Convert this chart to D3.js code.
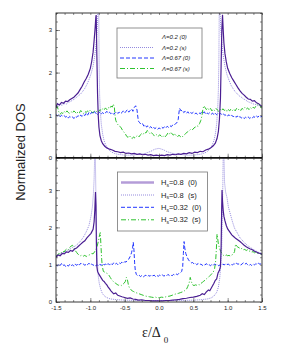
<!DOCTYPE html>
<html>
<head>
<script src="https://d3js.org/d3.v7.min.js"></script>
<style>
body { margin: 0; background: #fff; }
svg text { font-family: Arial, "Liberation Sans", sans-serif; fill: #222; }
</style>
</head>
<body>
<script>
// top panel: Lambda series, bottom panel: H_s series. [energy, DOS]
var lam02_0 = [[-1.5,1.18],[-1.48,1.27],[-1.45,1.24],[-1.42,1.3],[-1.39,1.28],[-1.36,1.33],[-1.33,1.32],[-1.3,1.36],[-1.27,1.39],[-1.24,1.42],[-1.21,1.47],[-1.18,1.52],[-1.15,1.6],[-1.12,1.68],[-1.09,1.78],[-1.06,1.86],[-1.03,1.96],[-1.0,2.1],[-0.98,2.26],[-0.96,2.48],[-0.945,2.75],[-0.93,3.05],[-0.92,3.3],[-0.915,3.35],[-0.905,2.4],[-0.895,1.5],[-0.885,1.0],[-0.875,0.72],[-0.86,0.52],[-0.84,0.4],[-0.82,0.33],[-0.79,0.27],[-0.76,0.23],[-0.72,0.2],[-0.68,0.18],[-0.64,0.15],[-0.6,0.14],[-0.56,0.12],[-0.52,0.13],[-0.48,0.1],[-0.44,0.11],[-0.4,0.09],[-0.36,0.1],[-0.32,0.08],[-0.28,0.09],[-0.24,0.07],[-0.2,0.08],[-0.16,0.06],[-0.12,0.07],[-0.08,0.05],[-0.04,0.06],[0,0.05],[0.04,0.06],[0.08,0.05],[0.12,0.07],[0.16,0.06],[0.2,0.08],[0.24,0.07],[0.28,0.09],[0.32,0.08],[0.36,0.1],[0.4,0.09],[0.44,0.12],[0.48,0.1],[0.52,0.13],[0.56,0.12],[0.6,0.15],[0.64,0.14],[0.68,0.18],[0.72,0.2],[0.76,0.24],[0.79,0.28],[0.82,0.34],[0.845,0.45],[0.865,0.62],[0.88,0.9],[0.895,1.4],[0.905,2.2],[0.915,3.0],[0.925,3.36],[0.935,3.0],[0.945,2.7],[0.96,2.45],[0.98,2.25],[1.0,2.1],[1.03,1.98],[1.06,1.88],[1.09,1.8],[1.12,1.72],[1.15,1.64],[1.18,1.57],[1.21,1.51],[1.24,1.47],[1.27,1.42],[1.3,1.38],[1.33,1.37],[1.36,1.33],[1.39,1.34],[1.42,1.29],[1.45,1.27],[1.48,1.23],[1.5,1.2]];
var lam02_s = [[-1.5,1.22],[-1.47,1.2],[-1.44,1.25],[-1.41,1.23],[-1.38,1.27],[-1.35,1.26],[-1.32,1.3],[-1.29,1.32],[-1.26,1.35],[-1.23,1.38],[-1.2,1.42],[-1.17,1.46],[-1.14,1.5],[-1.11,1.56],[-1.08,1.63],[-1.05,1.72],[-1.02,1.83],[-0.99,1.97],[-0.96,2.15],[-0.94,2.35],[-0.92,2.6],[-0.905,2.9],[-0.895,3.2],[-0.885,3.6],[-0.878,3.6],[-0.872,2.2],[-0.865,1.5],[-0.855,1.1],[-0.84,0.78],[-0.82,0.55],[-0.8,0.4],[-0.77,0.28],[-0.74,0.2],[-0.7,0.14],[-0.65,0.1],[-0.6,0.08],[-0.5,0.06],[-0.4,0.06],[-0.3,0.08],[-0.2,0.1],[-0.12,0.15],[-0.06,0.2],[0,0.22],[0.06,0.19],[0.12,0.14],[0.2,0.1],[0.3,0.08],[0.4,0.06],[0.5,0.06],[0.6,0.08],[0.65,0.1],[0.7,0.14],[0.74,0.2],[0.77,0.28],[0.8,0.4],[0.82,0.55],[0.84,0.8],[0.855,1.15],[0.865,1.6],[0.872,2.3],[0.878,3.6],[0.885,3.6],[0.895,3.2],[0.905,2.9],[0.92,2.6],[0.94,2.35],[0.96,2.15],[0.99,1.95],[1.02,1.82],[1.05,1.7],[1.08,1.62],[1.11,1.55],[1.14,1.5],[1.17,1.45],[1.2,1.42],[1.23,1.38],[1.26,1.36],[1.29,1.32],[1.32,1.3],[1.35,1.28],[1.38,1.26],[1.41,1.25],[1.44,1.22],[1.47,1.23],[1.5,1.2]];
var lam067_0 = [[-1.5,1.02],[-1.48,0.98],[-1.46,1.01],[-1.44,0.96],[-1.42,1.0],[-1.4,0.97],[-1.38,0.99],[-1.36,0.95],[-1.34,0.98],[-1.32,0.93],[-1.3,0.97],[-1.28,0.94],[-1.26,0.96],[-1.24,0.92],[-1.22,0.97],[-1.2,0.95],[-1.18,0.99],[-1.16,0.96],[-1.14,1.0],[-1.12,0.97],[-1.1,1.02],[-1.08,0.99],[-1.06,1.05],[-1.04,1.0],[-1.02,1.06],[-1.0,1.02],[-0.98,1.07],[-0.96,1.03],[-0.94,1.08],[-0.92,1.05],[-0.9,1.0],[-0.88,1.04],[-0.86,1.08],[-0.84,1.03],[-0.82,1.06],[-0.8,1.02],[-0.78,1.05],[-0.76,1.09],[-0.74,1.04],[-0.72,1.07],[-0.7,1.03],[-0.68,1.06],[-0.66,1.02],[-0.64,1.05],[-0.62,1.08],[-0.6,1.04],[-0.58,1.07],[-0.56,1.03],[-0.54,1.06],[-0.52,1.1],[-0.5,1.05],[-0.48,1.09],[-0.46,1.13],[-0.44,1.07],[-0.42,1.11],[-0.4,1.15],[-0.38,1.09],[-0.36,1.18],[-0.34,1.22],[-0.32,1.12],[-0.31,0.98],[-0.3,0.86],[-0.28,0.82],[-0.26,0.78],[-0.24,0.8],[-0.22,0.74],[-0.2,0.77],[-0.18,0.72],[-0.16,0.75],[-0.14,0.7],[-0.12,0.73],[-0.1,0.69],[-0.08,0.72],[-0.06,0.68],[-0.04,0.71],[-0.02,0.67],[0,0.7],[0.02,0.68],[0.04,0.72],[0.06,0.69],[0.08,0.73],[0.1,0.7],[0.12,0.74],[0.14,0.71],[0.16,0.75],[0.18,0.73],[0.2,0.77],[0.22,0.76],[0.24,0.8],[0.26,0.82],[0.28,0.9],[0.29,1.05],[0.3,1.16],[0.32,1.1],[0.34,1.12],[0.36,1.06],[0.38,1.09],[0.4,1.04],[0.42,1.08],[0.44,1.03],[0.46,1.06],[0.48,1.04],[0.5,1.07],[0.52,1.03],[0.54,1.05],[0.56,1.02],[0.58,1.06],[0.6,1.03],[0.62,1.07],[0.64,1.04],[0.66,1.08],[0.68,1.02],[0.7,1.05],[0.72,1.03],[0.74,1.06],[0.76,1.02],[0.78,1.05],[0.8,1.0],[0.82,1.04],[0.84,1.01],[0.86,1.05],[0.88,1.02],[0.9,1.04],[0.92,1.0],[0.94,1.03],[0.96,0.99],[0.98,1.02],[1.0,0.98],[1.02,1.01],[1.04,0.97],[1.06,1.0],[1.08,0.96],[1.1,0.99],[1.12,0.95],[1.14,0.98],[1.16,0.94],[1.18,0.97],[1.2,0.93],[1.22,0.96],[1.24,0.92],[1.26,0.95],[1.28,0.93],[1.3,0.96],[1.32,0.92],[1.34,0.95],[1.36,0.93],[1.38,0.97],[1.4,0.94],[1.42,0.98],[1.44,0.95],[1.46,0.99],[1.48,0.96],[1.5,0.97]];
var lam067_s = [[-1.5,1.16],[-1.48,1.2],[-1.46,1.08],[-1.44,1.02],[-1.42,1.06],[-1.4,1.04],[-1.38,1.09],[-1.36,1.05],[-1.34,1.1],[-1.32,1.06],[-1.3,1.04],[-1.28,1.08],[-1.26,1.05],[-1.24,1.1],[-1.22,1.07],[-1.2,1.03],[-1.18,1.08],[-1.16,1.05],[-1.14,1.11],[-1.12,1.07],[-1.1,1.04],[-1.08,1.09],[-1.06,1.06],[-1.04,1.1],[-1.02,1.07],[-1.0,1.12],[-0.98,1.08],[-0.96,1.05],[-0.94,1.1],[-0.92,1.07],[-0.9,1.11],[-0.88,1.08],[-0.86,1.13],[-0.84,1.1],[-0.82,1.15],[-0.8,1.12],[-0.78,1.17],[-0.76,1.13],[-0.74,1.18],[-0.72,1.15],[-0.7,1.21],[-0.68,1.19],[-0.665,1.26],[-0.65,1.18],[-0.64,0.98],[-0.63,0.88],[-0.61,0.8],[-0.59,0.76],[-0.57,0.74],[-0.55,0.7],[-0.53,0.64],[-0.51,0.6],[-0.49,0.56],[-0.47,0.5],[-0.45,0.48],[-0.43,0.52],[-0.41,0.47],[-0.39,0.45],[-0.37,0.49],[-0.35,0.46],[-0.33,0.5],[-0.31,0.53],[-0.29,0.49],[-0.27,0.54],[-0.25,0.57],[-0.23,0.55],[-0.21,0.6],[-0.19,0.58],[-0.17,0.64],[-0.15,0.6],[-0.13,0.56],[-0.11,0.59],[-0.09,0.55],[-0.07,0.52],[-0.05,0.56],[-0.03,0.53],[-0.01,0.5],[0.01,0.54],[0.03,0.51],[0.05,0.48],[0.07,0.52],[0.09,0.49],[0.11,0.53],[0.13,0.58],[0.15,0.55],[0.17,0.6],[0.19,0.56],[0.21,0.53],[0.23,0.57],[0.25,0.52],[0.27,0.49],[0.29,0.53],[0.31,0.5],[0.33,0.47],[0.35,0.51],[0.37,0.54],[0.39,0.57],[0.41,0.6],[0.43,0.62],[0.45,0.65],[0.47,0.68],[0.49,0.66],[0.51,0.7],[0.53,0.72],[0.55,0.75],[0.57,0.74],[0.59,0.8],[0.61,0.88],[0.625,0.98],[0.64,1.15],[0.655,1.22],[0.67,1.18],[0.69,1.13],[0.71,1.17],[0.73,1.12],[0.75,1.16],[0.77,1.1],[0.79,1.14],[0.81,1.11],[0.83,1.16],[0.85,1.12],[0.87,1.09],[0.89,1.14],[0.91,1.1],[0.93,1.15],[0.95,1.11],[0.97,1.14],[0.99,1.08],[1.01,1.13],[1.03,1.1],[1.05,1.15],[1.07,1.11],[1.09,1.14],[1.11,1.1],[1.13,1.16],[1.15,1.12],[1.17,1.15],[1.19,1.11],[1.21,1.16],[1.23,1.13],[1.25,1.18],[1.27,1.14],[1.29,1.17],[1.31,1.13],[1.33,1.18],[1.35,1.15],[1.37,1.19],[1.39,1.16],[1.41,1.21],[1.43,1.25],[1.45,1.28],[1.47,1.22],[1.49,1.17],[1.5,1.15]];

var hs08_0 = [[-1.5,1.2],[-1.47,1.26],[-1.44,1.24],[-1.41,1.3],[-1.38,1.29],[-1.35,1.34],[-1.32,1.33],[-1.29,1.38],[-1.26,1.36],[-1.23,1.42],[-1.2,1.45],[-1.17,1.5],[-1.14,1.55],[-1.11,1.6],[-1.08,1.64],[-1.05,1.72],[-1.02,1.78],[-0.99,1.84],[-0.96,1.95],[-0.945,2.15],[-0.935,2.45],[-0.925,2.95],[-0.918,2.6],[-0.912,1.6],[-0.905,0.95],[-0.895,0.82],[-0.88,0.76],[-0.86,0.7],[-0.84,0.64],[-0.82,0.58],[-0.8,0.55],[-0.78,0.5],[-0.76,0.46],[-0.74,0.4],[-0.72,0.35],[-0.7,0.3],[-0.68,0.26],[-0.66,0.22],[-0.63,0.24],[-0.6,0.18],[-0.57,0.16],[-0.54,0.14],[-0.5,0.12],[-0.46,0.1],[-0.42,0.11],[-0.38,0.08],[-0.34,0.07],[-0.3,0.05],[-0.25,0.06],[-0.2,0.04],[-0.15,0.04],[-0.1,0.03],[-0.05,0.03],[0,0.03],[0.05,0.03],[0.1,0.04],[0.15,0.04],[0.2,0.05],[0.25,0.06],[0.3,0.07],[0.35,0.09],[0.4,0.1],[0.45,0.12],[0.5,0.13],[0.55,0.15],[0.6,0.18],[0.63,0.22],[0.66,0.2],[0.69,0.27],[0.72,0.32],[0.74,0.3],[0.77,0.4],[0.8,0.5],[0.82,0.58],[0.84,0.62],[0.86,0.78],[0.88,0.85],[0.895,0.95],[0.905,1.5],[0.912,2.4],[0.918,3.0],[0.925,2.7],[0.935,2.45],[0.945,2.3],[0.96,2.18],[0.98,2.05],[1.0,1.96],[1.03,1.88],[1.06,1.8],[1.09,1.75],[1.12,1.7],[1.15,1.66],[1.18,1.62],[1.21,1.57],[1.24,1.52],[1.27,1.48],[1.3,1.45],[1.33,1.42],[1.36,1.4],[1.39,1.36],[1.42,1.34],[1.45,1.31],[1.48,1.3],[1.5,1.27]];
var hs08_s = [[-1.5,1.24],[-1.46,1.28],[-1.42,1.32],[-1.38,1.34],[-1.34,1.38],[-1.3,1.42],[-1.26,1.46],[-1.22,1.5],[-1.18,1.56],[-1.14,1.64],[-1.1,1.74],[-1.06,1.88],[-1.02,2.05],[-0.99,2.3],[-0.97,2.55],[-0.955,2.9],[-0.945,3.3],[-0.935,4.0],[-0.928,4.0],[-0.92,3.0],[-0.912,2.0],[-0.9,1.2],[-0.885,0.7],[-0.87,0.5],[-0.85,0.35],[-0.83,0.25],[-0.81,0.19],[-0.78,0.14],[-0.74,0.1],[-0.7,0.08],[-0.6,0.06],[-0.5,0.05],[-0.3,0.04],[0,0.04],[0.3,0.04],[0.5,0.05],[0.6,0.06],[0.7,0.08],[0.76,0.11],[0.8,0.16],[0.84,0.26],[0.865,0.4],[0.885,0.65],[0.9,1.0],[0.912,1.4],[0.922,2.2],[0.93,3.2],[0.935,4.0],[0.945,4.0],[0.955,3.2],[0.97,2.95],[0.99,2.8],[1.01,2.55],[1.04,2.35],[1.07,2.15],[1.1,1.98],[1.14,1.85],[1.18,1.72],[1.22,1.64],[1.26,1.56],[1.3,1.5],[1.34,1.45],[1.38,1.4],[1.42,1.36],[1.46,1.32],[1.5,1.3]];
var hs032_0 = [[-1.5,1.0],[-1.48,0.96],[-1.46,1.02],[-1.44,0.98],[-1.42,1.03],[-1.4,0.97],[-1.38,1.0],[-1.36,0.95],[-1.34,0.99],[-1.32,0.96],[-1.3,1.01],[-1.28,0.97],[-1.26,1.0],[-1.24,0.96],[-1.22,1.02],[-1.2,0.98],[-1.18,1.03],[-1.16,0.99],[-1.14,1.04],[-1.12,1.0],[-1.1,1.02],[-1.08,0.98],[-1.06,1.03],[-1.04,1.0],[-1.02,1.04],[-1.0,0.99],[-0.98,1.02],[-0.96,0.98],[-0.94,1.01],[-0.92,0.97],[-0.9,1.0],[-0.88,0.96],[-0.86,1.01],[-0.84,0.98],[-0.82,1.03],[-0.8,0.99],[-0.78,1.02],[-0.76,0.98],[-0.74,1.03],[-0.72,0.99],[-0.7,1.04],[-0.68,1.0],[-0.66,1.05],[-0.64,1.01],[-0.62,1.04],[-0.6,1.0],[-0.58,1.05],[-0.56,1.03],[-0.54,1.07],[-0.52,1.04],[-0.5,1.08],[-0.48,1.07],[-0.46,1.12],[-0.44,1.15],[-0.42,1.22],[-0.4,1.32],[-0.385,1.45],[-0.375,1.6],[-0.365,1.4],[-0.355,1.05],[-0.345,0.84],[-0.33,0.74],[-0.31,0.7],[-0.29,0.72],[-0.27,0.68],[-0.25,0.71],[-0.23,0.67],[-0.21,0.7],[-0.19,0.72],[-0.17,0.68],[-0.15,0.71],[-0.13,0.69],[-0.11,0.73],[-0.09,0.7],[-0.07,0.72],[-0.05,0.68],[-0.03,0.71],[-0.01,0.69],[0.01,0.72],[0.03,0.7],[0.05,0.73],[0.07,0.69],[0.09,0.72],[0.11,0.7],[0.13,0.74],[0.15,0.71],[0.17,0.73],[0.19,0.7],[0.21,0.74],[0.23,0.72],[0.25,0.75],[0.27,0.73],[0.29,0.77],[0.31,0.78],[0.33,0.82],[0.345,0.95],[0.355,1.3],[0.365,1.62],[0.375,1.45],[0.39,1.3],[0.41,1.2],[0.43,1.13],[0.45,1.08],[0.47,1.05],[0.49,1.06],[0.51,1.02],[0.53,1.04],[0.55,1.0],[0.57,1.03],[0.59,0.99],[0.61,1.02],[0.63,0.98],[0.65,1.01],[0.67,0.99],[0.69,1.03],[0.71,0.98],[0.73,1.0],[0.75,0.97],[0.77,1.01],[0.79,0.98],[0.81,1.02],[0.83,0.99],[0.85,1.01],[0.87,0.97],[0.89,1.0],[0.91,0.98],[0.93,1.02],[0.95,0.99],[0.97,1.03],[0.99,1.0],[1.01,1.02],[1.03,0.98],[1.05,1.01],[1.07,0.99],[1.09,1.03],[1.11,1.0],[1.13,1.04],[1.15,1.01],[1.17,1.03],[1.19,0.99],[1.21,1.02],[1.23,1.05],[1.25,1.01],[1.27,1.04],[1.29,1.0],[1.31,0.97],[1.33,1.01],[1.35,0.98],[1.37,1.02],[1.39,0.99],[1.41,1.03],[1.43,1.0],[1.45,1.04],[1.47,1.01],[1.49,1.03],[1.5,1.02]];
var hs032_s = [[-1.5,1.22],[-1.48,1.25],[-1.46,1.3],[-1.44,1.28],[-1.42,1.33],[-1.4,1.36],[-1.38,1.34],[-1.36,1.4],[-1.34,1.43],[-1.32,1.4],[-1.3,1.46],[-1.28,1.5],[-1.26,1.52],[-1.24,1.46],[-1.22,1.38],[-1.2,1.33],[-1.18,1.28],[-1.16,1.26],[-1.14,1.24],[-1.12,1.26],[-1.1,1.23],[-1.08,1.25],[-1.06,1.22],[-1.04,1.24],[-1.02,1.26],[-1.0,1.27],[-0.98,1.3],[-0.96,1.29],[-0.94,1.34],[-0.92,1.4],[-0.9,1.5],[-0.88,1.65],[-0.865,1.8],[-0.855,1.86],[-0.845,1.5],[-0.835,1.15],[-0.825,0.95],[-0.81,0.82],[-0.79,0.8],[-0.77,0.78],[-0.75,0.76],[-0.73,0.72],[-0.71,0.66],[-0.69,0.6],[-0.67,0.56],[-0.65,0.52],[-0.63,0.5],[-0.61,0.47],[-0.59,0.45],[-0.57,0.46],[-0.55,0.44],[-0.53,0.47],[-0.51,0.5],[-0.49,0.55],[-0.475,0.66],[-0.46,0.6],[-0.445,0.45],[-0.43,0.38],[-0.41,0.33],[-0.39,0.3],[-0.37,0.28],[-0.35,0.26],[-0.32,0.24],[-0.29,0.22],[-0.26,0.2],[-0.23,0.18],[-0.2,0.16],[-0.17,0.15],[-0.14,0.14],[-0.11,0.13],[-0.08,0.12],[-0.05,0.13],[-0.02,0.11],[0.01,0.12],[0.04,0.13],[0.07,0.12],[0.1,0.14],[0.13,0.15],[0.16,0.16],[0.19,0.18],[0.22,0.2],[0.25,0.22],[0.28,0.23],[0.31,0.25],[0.34,0.27],[0.37,0.3],[0.4,0.34],[0.42,0.42],[0.44,0.52],[0.455,0.66],[0.47,0.55],[0.49,0.46],[0.51,0.44],[0.53,0.46],[0.55,0.45],[0.57,0.47],[0.59,0.46],[0.61,0.5],[0.63,0.52],[0.65,0.56],[0.67,0.58],[0.69,0.62],[0.71,0.65],[0.73,0.68],[0.75,0.72],[0.77,0.76],[0.79,0.8],[0.81,0.9],[0.825,1.1],[0.835,1.4],[0.845,1.82],[0.855,1.7],[0.865,1.55],[0.88,1.45],[0.9,1.35],[0.92,1.28],[0.94,1.25],[0.96,1.24],[0.98,1.26],[1.0,1.24],[1.02,1.25],[1.04,1.23],[1.06,1.26],[1.08,1.28],[1.1,1.35],[1.115,1.55],[1.13,1.5],[1.15,1.47],[1.17,1.45],[1.19,1.42],[1.21,1.44],[1.23,1.4],[1.25,1.41],[1.27,1.38],[1.29,1.4],[1.31,1.36],[1.33,1.37],[1.35,1.34],[1.37,1.35],[1.39,1.32],[1.41,1.34],[1.43,1.3],[1.45,1.31],[1.47,1.28],[1.49,1.3],[1.5,1.27]];

var topLabels = ["\u039B=0.2 (0)", "\u039B=0.2 (s)", "\u039B=0.67 (0)", "\u039B=0.67 (s)"];
var botValues = ["0.8", "0.8", "0.32", "0.32"];
var botKinds = ["(0)", "(s)", "(0)", "(s)"];
var xTicks = [-1.5, -1.0, -0.5, 0.0, 0.5, 1.0, 1.5];
var yTicks = [0, 1, 2, 3];

var styles = [
	{ color: "#4a1e92", width: 1.2, dash: null },
	{ color: "#948ade", width: 1, dash: "1,1" },
	{ color: "#2236ff", width: 1, dash: "4,2" },
	{ color: "#2ec22e", width: 1, dash: "5,2,1,2" }
];

var svg = d3.select("body").append("svg").attr("width", 295).attr("height", 347);

var x = d3.scaleLinear().domain([-1.5, 1.5]).range([56, 262]);
var yTop = d3.scaleLinear().domain([0, 3.4]).range([157.7, 13]);
var yBot = d3.scaleLinear().domain([0, 3.86]).range([302, 158]);

function minorTicks(a, b, step) {
	var out = [];
	for (var v = a; v <= b + 1e-9; v += step) out.push(+v.toFixed(4));
	return out;
}

function panel(id, y, series, showX) {
	var g = svg.append("g");
	var y0 = y.range()[0], y1 = y.range()[1];
	svg.append("clipPath").attr("id", id).append("rect")
		.attr("x", 56).attr("y", y1).attr("width", 206).attr("height", y0 - y1);

	var line = d3.line().x(function (d) { return x(d[0]); }).y(function (d) { return y(d[1]); });
	var order = [1, 3, 2, 0];
	order.forEach(function (k) {
		g.append("path").attr("d", line(series[k])).attr("clip-path", "url(#" + id + ")")
			.attr("fill", "none").attr("stroke", styles[k].color)
			.attr("stroke-width", styles[k].width)
			.attr("stroke-dasharray", styles[k].dash);
	});

	// axes with inward ticks
	g.append("g").attr("transform", "translate(0," + y0 + ")")
		.call(d3.axisBottom(x).tickValues(xTicks).tickSize(-4).tickPadding(4)
			.tickFormat(function (d) { return showX ? d.toFixed(1) : ""; }));
	g.append("g").attr("transform", "translate(0," + y0 + ")")
		.call(d3.axisBottom(x).tickValues(minorTicks(-1.5, 1.5, 0.125)).tickSize(-2).tickFormat(""));
	g.append("g").attr("transform", "translate(0," + y1 + ")")
		.call(d3.axisTop(x).tickValues(minorTicks(-1.5, 1.5, 0.125)).tickSize(-2).tickFormat(""));
	g.append("g").attr("transform", "translate(56,0)")
		.call(d3.axisLeft(y).tickValues(yTicks).tickSize(-4).tickPadding(4).tickFormat(d3.format("d")));
	g.append("g").attr("transform", "translate(56,0)")
		.call(d3.axisLeft(y).tickValues(minorTicks(0, y.domain()[1], 0.2)).tickSize(-2).tickFormat(""));
	g.append("g").attr("transform", "translate(262,0)")
		.call(d3.axisRight(y).tickValues(minorTicks(0, y.domain()[1], 0.2)).tickSize(-2).tickFormat(""));
	g.selectAll(".domain").remove();
	g.selectAll(".tick line").attr("stroke", "#444").attr("stroke-width", 0.6);
	g.selectAll(".tick text").attr("font-size", 6).attr("fill", "#222");

	g.append("rect").attr("x", 56).attr("y", y1).attr("width", 206).attr("height", y0 - y1)
		.attr("fill", "none").attr("stroke", "#222").attr("stroke-width", 0.9);
	return g;
}

panel("clipTop", yTop, [lam02_0, lam02_s, lam067_0, lam067_s], false);
panel("clipBot", yBot, [hs08_0, hs08_s, hs032_0, hs032_s], true);

// middle divider is drawn heavier
svg.append("line").attr("x1", 56).attr("x2", 262).attr("y1", 157.8).attr("y2", 157.8)
	.attr("stroke", "#111").attr("stroke-width", 1.4);

// top legend
var lt = svg.append("g");
lt.append("rect").attr("x", 117).attr("y", 28).attr("width", 85).attr("height", 50)
	.attr("fill", "#fff").attr("stroke", "#777").attr("stroke-width", 0.8);
var topRows = [38.5, 49, 59.5, 70];
topLabels.forEach(function (t, i) {
	if (i > 0) {
		lt.append("line").attr("x1", 120).attr("x2", 154).attr("y1", topRows[i] - 1.5).attr("y2", topRows[i] - 1.5)
			.attr("stroke", styles[i].color).attr("stroke-width", styles[i].width)
			.attr("stroke-dasharray", styles[i].dash);
	}
	lt.append("text").attr("x", 162).attr("y", topRows[i] + 0.5).attr("font-size", 6)
		.attr("font-style", "italic").text(t);
});

// bottom legend
var lb = svg.append("g");
lb.append("rect").attr("x", 117.5).attr("y", 172).attr("width", 90).attr("height", 59)
	.attr("fill", "#fff").attr("stroke", "#777").attr("stroke-width", 0.8);
var botRows = [182.5, 195, 207.3, 219.8];
var botStyles = [{ color: "#b49cd8", width: 2.4, dash: null }, styles[1], styles[2], styles[3]];
botValues.forEach(function (v, i) {
	lb.append("line").attr("x1", 121).attr("x2", 154).attr("y1", botRows[i]).attr("y2", botRows[i])
		.attr("stroke", botStyles[i].color).attr("stroke-width", botStyles[i].width)
		.attr("stroke-dasharray", botStyles[i].dash);
	var t = lb.append("text").attr("x", 161).attr("y", botRows[i] + 2.5).attr("font-size", 7.5);
	t.append("tspan").text("H");
	t.append("tspan").attr("font-size", 5).attr("dy", 1.8).text("s");
	t.append("tspan").attr("dy", -1.8).text("=" + v + "\u00A0\u00A0" + botKinds[i]);
});

// axis titles
svg.append("text").attr("transform", "translate(25,152) rotate(-90)")
	.attr("text-anchor", "middle").attr("font-size", 13).text("Normalized DOS");
var xt = svg.append("text").attr("x", 142).attr("y", 337)
	.style("font-family", "'Liberation Serif', 'Times New Roman', serif").attr("font-size", 14);
xt.append("tspan").text("\u03B5/\u0394");
xt.append("tspan").attr("font-size", 9).attr("dx", 3).attr("dy", 6).text("0");
</script>
</body>
</html>
